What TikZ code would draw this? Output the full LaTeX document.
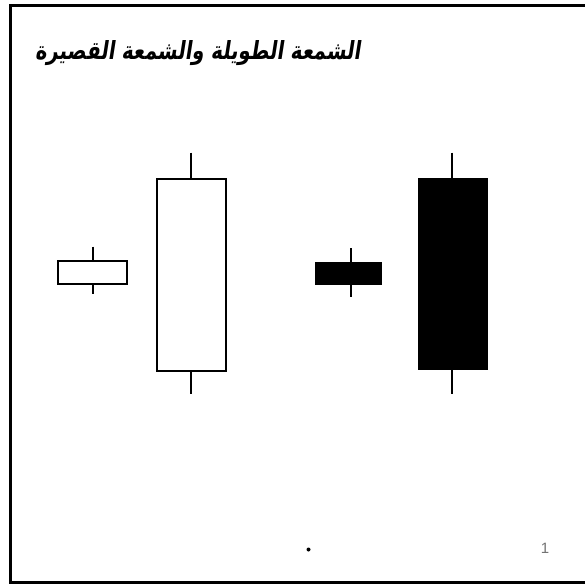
\documentclass[tikz,border=0pt]{standalone}
\usepackage{fontspec}
\setmainfont{Liberation Sans}
\newfontfamily\arabicfont[Script=Arabic,FakeSlant=0.2]{DejaVu Sans Bold}
\TeXXeTstate=1

\begin{document}
\begin{tikzpicture}[
  x=1pt,
  y=-1pt,
  line join=miter,
  frame/.style={draw=black,line width=3pt},
  wick/.style={draw=black,line width=2pt},
  whitebody/.style={draw=black,fill=white,line width=2pt},
  blackbody/.style={fill=black}
]
  % Match the original slide frame.
  \useasboundingbox (0,0) rectangle (584,585);
  \fill[white] (0,0) rectangle (584,585);
  \draw[frame] (586,5.3) -- (10.5,5.3) -- (10.5,582.5) -- (586,582.5);

  % Slide title.
  \node[anchor=base west,inner sep=0pt,xscale=0.785,
    font=\arabicfont\fontsize{25}{30}\selectfont]
    (title) at (35,60) {\beginR الشمعة الطويلة والشمعة القصيرة\endR};

  % Short white candle.
  \coordinate (shortWhiteHigh) at (93.3,246.7);
  \coordinate (shortWhiteLow) at (93.3,294.3);
  \draw[wick] (shortWhiteHigh) -- (93.3,260.7);
  \draw[wick] (93.3,284) -- (shortWhiteLow);
  \draw[whitebody] (58.3,260.7) rectangle (127.3,284);

  % Long white candle.
  \coordinate (longWhiteHigh) at (191,152.7);
  \coordinate (longWhiteLow) at (191,394);
  \draw[wick] (longWhiteHigh) -- (191,179);
  \draw[wick] (191,370.7) -- (longWhiteLow);
  \draw[whitebody] (157.3,179) rectangle (226,370.7);

  % Short black candle.
  \coordinate (shortBlackHigh) at (350.7,248);
  \coordinate (shortBlackLow) at (350.7,296.7);
  \draw[wick] (shortBlackHigh) -- (shortBlackLow);
  \fill[blackbody] (314.7,262) rectangle (382.3,285);

  % Long black candle.
  \coordinate (longBlackHigh) at (452,152.7);
  \coordinate (longBlackLow) at (452,394);
  \draw[wick] (longBlackHigh) -- (longBlackLow);
  \fill[blackbody] (417.7,178.3) rectangle (487.7,370.3);

  % Stray mark and page number at the foot.
  \fill[black] (308.5,549.5) circle[radius=2];
  \node[anchor=base,inner sep=0pt,text=black!55,font=\fontsize{15}{18}\selectfont]
    (pagenum) at (545,553) {1};
\end{tikzpicture}
\end{document}
